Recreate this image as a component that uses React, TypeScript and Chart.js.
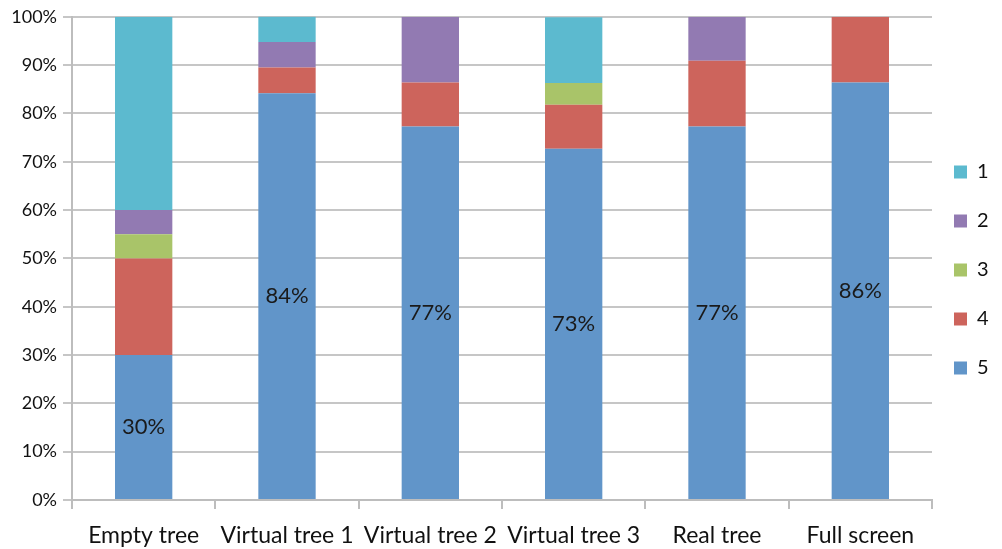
import React, { useEffect, useRef } from "react";
import { Chart, registerables } from "chart.js";

Chart.register(...registerables);

const categories = ["Empty tree", "Virtual tree 1", "Virtual tree 2", "Virtual tree 3", "Real tree", "Full screen"];
const series5 = [30, 84.2, 77.3, 72.7, 77.3, 86.4];
const series4 = [20, 5.3, 9.1, 9.1, 13.6, 13.6];
const series3 = [5, 0, 0, 4.5, 0, 0];
const series2 = [5, 5.3, 13.6, 0, 9.1, 0];
const series1 = [40, 5.3, 0, 13.6, 0, 0];
const yTicks = [0, 10, 20, 30, 40, 50, 60, 70, 80, 90, 100];

const FONT = "Lato, 'Open Sans', sans-serif";

const labelPlugin = {
  id: "bottomLabels",
  beforeDraw(chart: any) {
    const lg = chart.legend;
    if (lg && !lg._shifted) {
      lg.left -= 7;
      lg.right -= 7;
      lg.top -= 12;
      lg.bottom -= 12;
      lg._shifted = true;
    }
  },
  afterDatasetsDraw(chart: any) {
    const ctx = chart.ctx;
    const meta = chart.getDatasetMeta(0);
    ctx.save();
    ctx.font = `22px ${FONT}`;
    ctx.fillStyle = "#1a1a1a";
    ctx.textAlign = "center";
    ctx.textBaseline = "middle";
    meta.data.forEach((bar: any, i: number) => {
      const v = series5[i];
      const y = (bar.y + bar.base) / 2;
      ctx.fillText(Math.round(v) + "%", bar.x, y);
    });
    ctx.restore();
  },
};

export default function App() {
  const ref = useRef<HTMLCanvasElement>(null);
  useEffect(() => {
    if (!ref.current) return;
    const chart = new Chart(ref.current, {
      type: "bar",
      data: {
        labels: categories,
        datasets: [
          { label: "5", data: series5, backgroundColor: "#6195C9" },
          { label: "4", data: series4, backgroundColor: "#CD645C" },
          { label: "3", data: series3, backgroundColor: "#A9C469" },
          { label: "2", data: series2, backgroundColor: "#927AB2" },
          { label: "1", data: series1, backgroundColor: "#5CBACF" },
        ],
      },
      options: {
        animation: false,
        responsive: true,
        maintainAspectRatio: false,
        datasets: { bar: { barPercentage: 0.8, categoryPercentage: 0.5 } },
        layout: { padding: { top: 15, right: 0, bottom: 0, left: 0 } },
        plugins: {
          tooltip: { enabled: false },
          legend: {
            position: "right",
            reverse: true,
            maxWidth: 70,
            labels: {
              boxWidth: 13,
              boxHeight: 13,
              padding: 29,
              color: "#111",
              font: { family: FONT, size: 20 },
            },
          },
        },
        scales: {
          x: {
            stacked: true,
            afterFit: (s: any) => { s.height = 49; },
            grid: { offset: true, drawOnChartArea: false, drawTicks: true, tickLength: 9, color: "#bdbdbd", lineWidth: 2 },
            border: { color: "#bdbdbd", width: 2 },
            ticks: { color: "#111", font: { family: FONT, size: 23 }, padding: 13, maxRotation: 0, autoSkip: false },
          },
          y: {
            stacked: true,
            min: 0,
            max: 100,
            afterFit: (s: any) => { s.width = 72; },
            afterBuildTicks: (s: any) => { s.ticks = yTicks.map((v) => ({ value: v })); },
            grid: { color: "#c6c6c6", lineWidth: 2, tickLength: 9 },
            border: { color: "#bdbdbd", width: 2 },
            ticks: { color: "#111", font: { family: FONT, size: 18 }, padding: 6, callback: (v: any) => v + "%" },
          },
        },
      },
      plugins: [labelPlugin],
    });
    return () => chart.destroy();
  }, []);
  return (
    <div style={{ position: "absolute", left: 0, top: 0, width: 1002, height: 549, background: "#fff" }}>
      <canvas ref={ref} />
    </div>
  );
}
